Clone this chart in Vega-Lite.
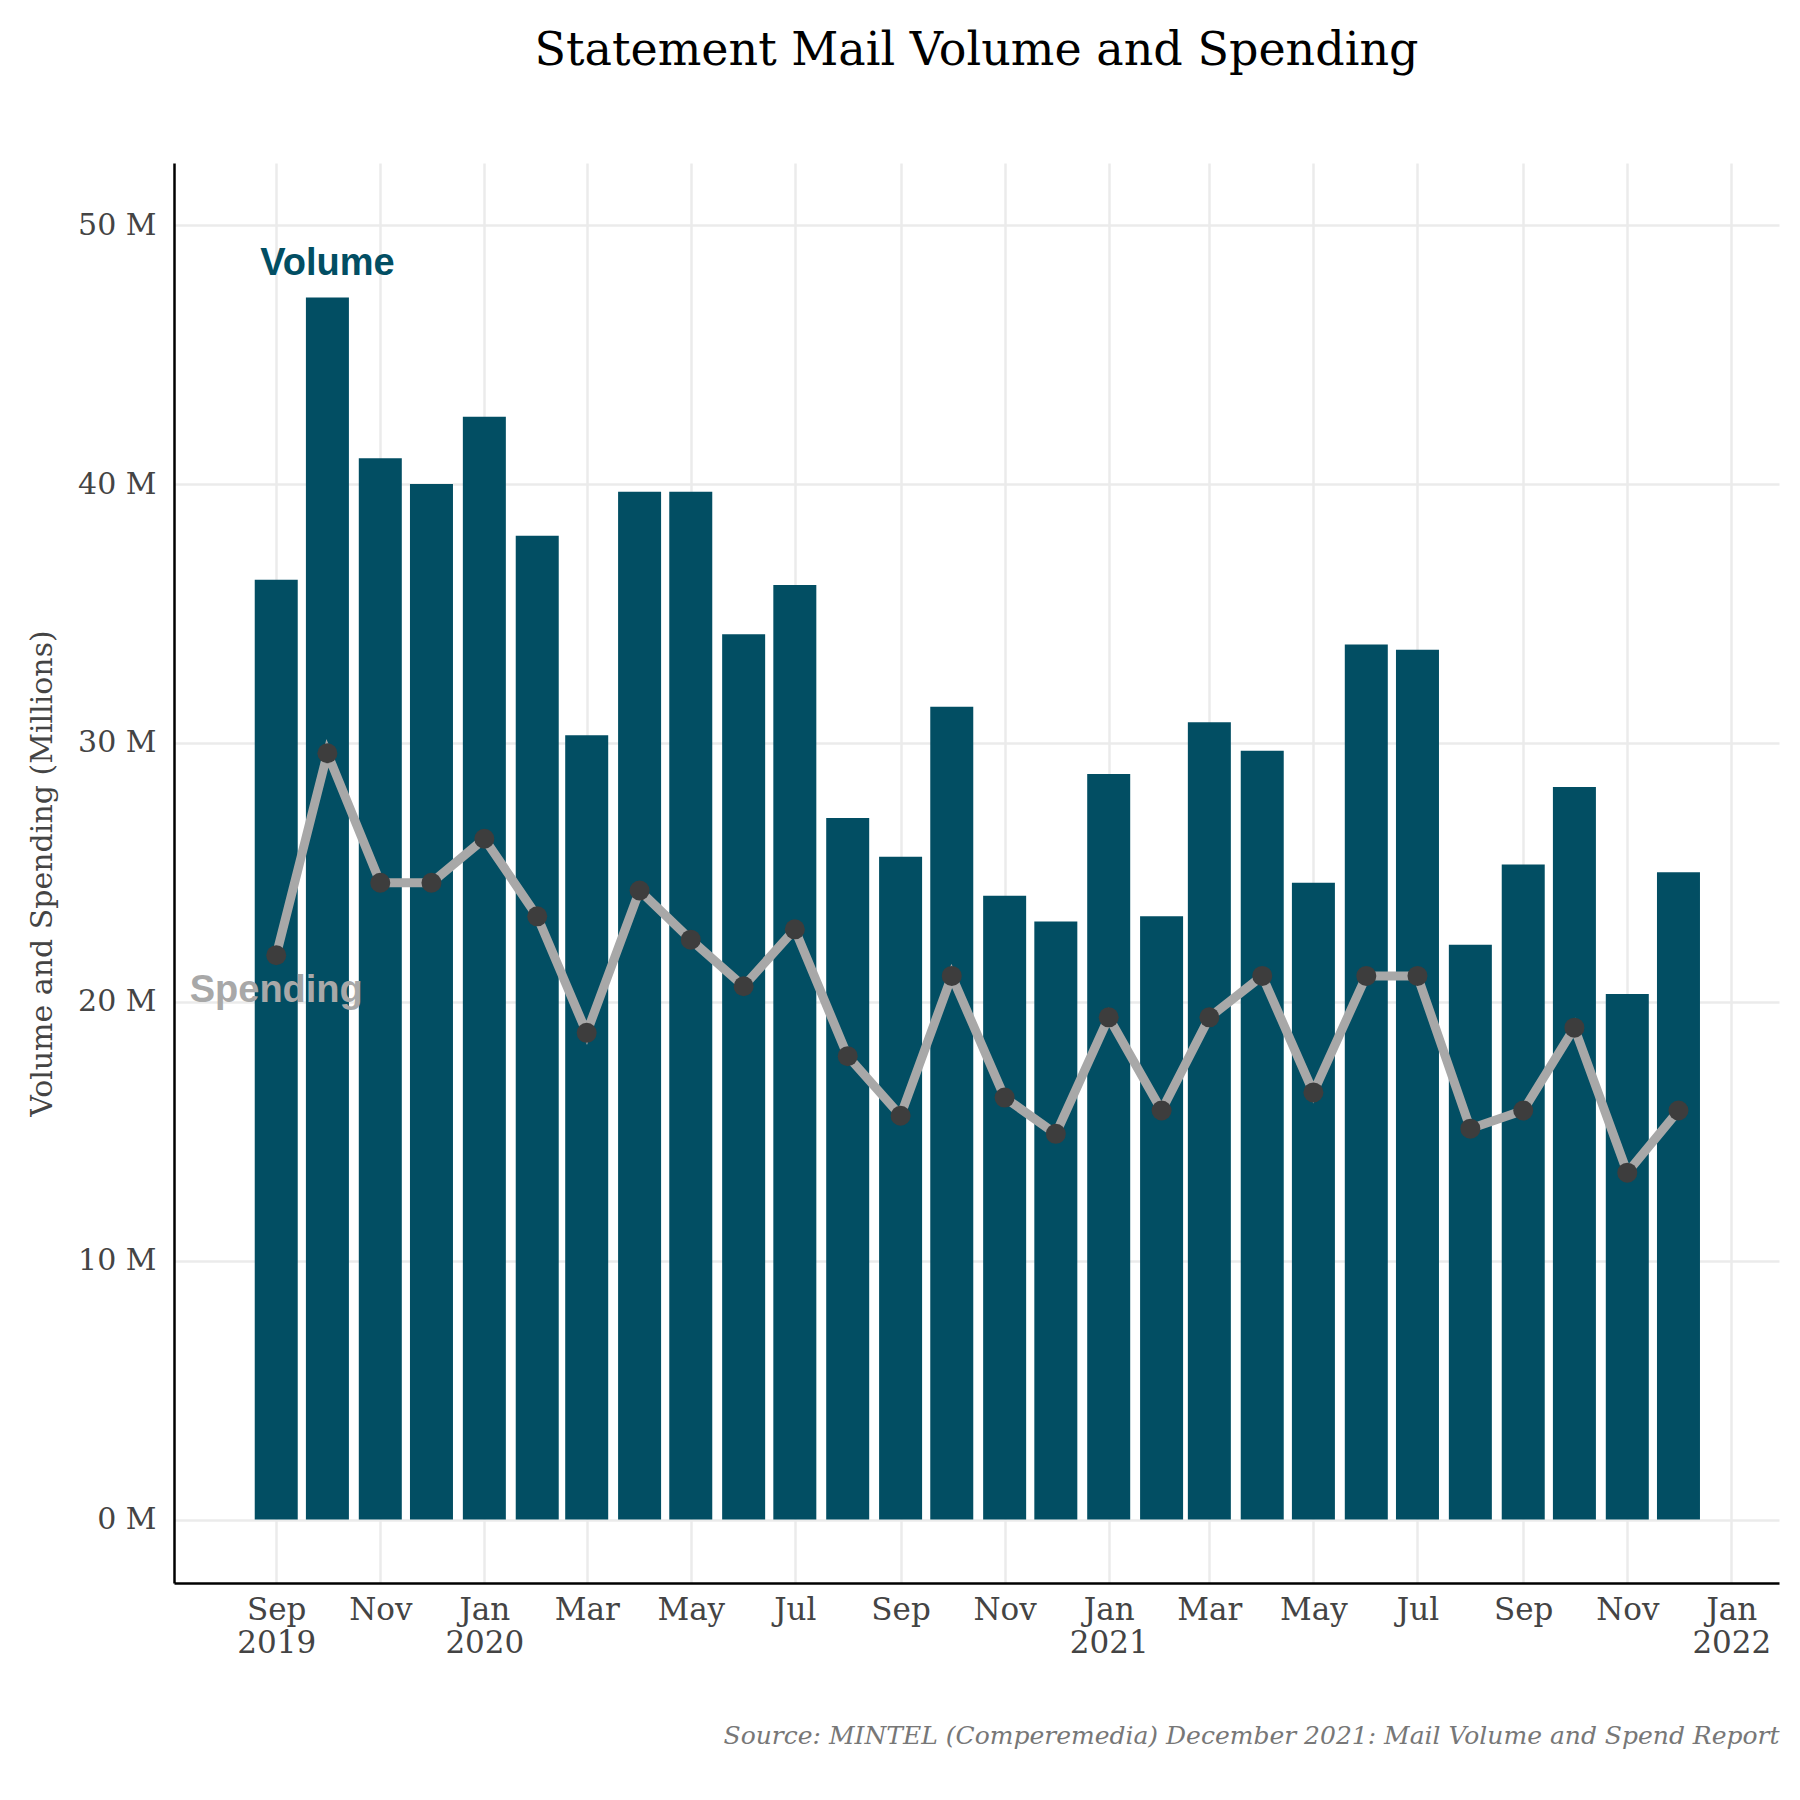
{
  "$schema": "https://vega.github.io/schema/vega-lite/v6.json",
  "width": 1605,
  "height": 1420,
  "padding": {"left": 27, "top": 28, "right": 10, "bottom": 10},
  "background": "white",
  "title": {"text": "Statement Mail Volume and Spending", "font": "DejaVu Serif", "fontSize": 46, "fontWeight": "normal", "color": "black", "offset": 88, "anchor": "middle"},
  "data": {"values": [
    {"date": "2019-09-01", "volume": 36.3, "spending": 21.8},
    {"date": "2019-10-01", "volume": 47.2, "spending": 29.6},
    {"date": "2019-11-01", "volume": 41.0, "spending": 24.6},
    {"date": "2019-12-01", "volume": 40.0, "spending": 24.6},
    {"date": "2020-01-01", "volume": 42.6, "spending": 26.3},
    {"date": "2020-02-01", "volume": 38.0, "spending": 23.3},
    {"date": "2020-03-01", "volume": 30.3, "spending": 18.8},
    {"date": "2020-04-01", "volume": 39.7, "spending": 24.3},
    {"date": "2020-05-01", "volume": 39.7, "spending": 22.4},
    {"date": "2020-06-01", "volume": 34.2, "spending": 20.6},
    {"date": "2020-07-01", "volume": 36.1, "spending": 22.8},
    {"date": "2020-08-01", "volume": 27.1, "spending": 17.9},
    {"date": "2020-09-01", "volume": 25.6, "spending": 15.6},
    {"date": "2020-10-01", "volume": 31.4, "spending": 21.0},
    {"date": "2020-11-01", "volume": 24.1, "spending": 16.3},
    {"date": "2020-12-01", "volume": 23.1, "spending": 14.9},
    {"date": "2021-01-01", "volume": 28.8, "spending": 19.4},
    {"date": "2021-02-01", "volume": 23.3, "spending": 15.8},
    {"date": "2021-03-01", "volume": 30.8, "spending": 19.4},
    {"date": "2021-04-01", "volume": 29.7, "spending": 21.0},
    {"date": "2021-05-01", "volume": 24.6, "spending": 16.5},
    {"date": "2021-06-01", "volume": 33.8, "spending": 21.0},
    {"date": "2021-07-01", "volume": 33.6, "spending": 21.0},
    {"date": "2021-08-01", "volume": 22.2, "spending": 15.1},
    {"date": "2021-09-01", "volume": 25.3, "spending": 15.8},
    {"date": "2021-10-01", "volume": 28.3, "spending": 19.0},
    {"date": "2021-11-01", "volume": 20.3, "spending": 13.4},
    {"date": "2021-12-01", "volume": 25.0, "spending": 15.8}
  ]},
  "encoding": {
    "x": {
      "field": "date", "type": "temporal",
      "scale": {"domain": ["2019-07-06", "2022-01-26"]},
      "axis": {
        "values": ["2019-09-01", "2019-11-01", "2020-01-01", "2020-03-01", "2020-05-01", "2020-07-01", "2020-09-01", "2020-11-01", "2021-01-01", "2021-03-01", "2021-05-01", "2021-07-01", "2021-09-01", "2021-11-01", "2022-01-01"],
        "labelExpr": "(month(datum.value) == 0 || (month(datum.value) == 8 && year(datum.value) == 2019)) ? [timeFormat(datum.value, '%b'), timeFormat(datum.value, '%Y')] : timeFormat(datum.value, '%b')",
        "title": "Source: MINTEL (Comperemedia) December 2021: Mail Volume and Spend Report",
        "titleAnchor": "end", "titleFontWeight": "normal", "titleFontStyle": "italic", "titleColor": "#777777", "titleFontSize": 25, "titlePadding": 65,
        "labelFontSize": 31, "labelColor": "#444444", "labelPadding": 12, "labelBaseline": "top",
        "ticks": false, "grid": true, "gridColor": "#ebebeb", "gridWidth": 2.5,
        "domainColor": "black", "domainWidth": 2.5
      }
    }
  },
  "layer": [
    {
      "mark": {"type": "bar", "width": 43, "color": "#024e63"},
      "encoding": {
        "y": {
          "field": "volume", "type": "quantitative",
          "scale": {"domain": [-2.45, 52.4], "nice": false, "zero": false},
          "axis": {
            "values": [0, 10, 20, 30, 40, 50], "labelExpr": "datum.value + ' M'",
            "title": "Volume and Spending (Millions)", "titleFontWeight": "normal", "titleFontSize": 30, "titleColor": "#444444", "titlePadding": 20,
            "labelFontSize": 30, "labelColor": "#444444", "labelPadding": 18,
            "ticks": false, "grid": true, "gridColor": "#ebebeb", "gridWidth": 2.5,
            "domainColor": "black", "domainWidth": 2.5
          }
        }
      }
    },
    {
      "mark": {"type": "line", "color": "#a8a8a8", "strokeWidth": 9},
      "encoding": {"y": {"field": "spending", "type": "quantitative"}}
    },
    {
      "mark": {"type": "circle", "color": "#3d3d3d", "opacity": 1, "size": 400},
      "encoding": {"y": {"field": "spending", "type": "quantitative"}}
    },
    {
      "data": {"values": [
        {"date": "2019-10-01", "v": 48.5, "label": "Volume", "c": "Volume"},
        {"date": "2019-09-01", "v": 20.4, "label": "Spending", "c": "Spending"}
      ]},
      "mark": {"type": "text", "font": "Liberation Sans", "fontWeight": "bold", "fontSize": 38},
      "encoding": {
        "y": {"field": "v", "type": "quantitative"},
        "text": {"field": "label"},
        "color": {"field": "c", "type": "nominal", "scale": {"domain": ["Volume", "Spending"], "range": ["#024e63", "#a8a8a8"]}, "legend": null}
      }
    }
  ],
  "config": {
    "font": "DejaVu Serif",
    "view": {"stroke": null},
    "axis": {"labelFont": "DejaVu Serif", "titleFont": "DejaVu Serif"}
  }
}
